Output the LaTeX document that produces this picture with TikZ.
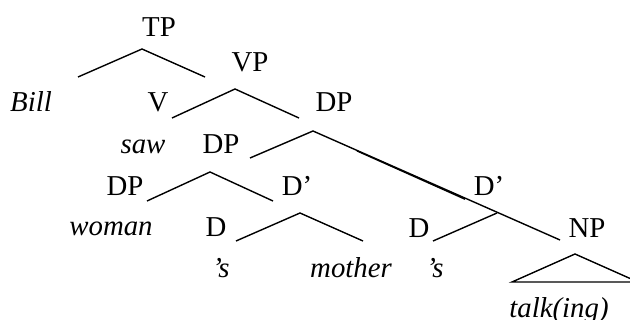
\documentclass[tikz,border=0pt]{standalone}
\usepackage{fontspec}
\setmainfont{Liberation Serif}
\begin{document}
\begin{tikzpicture}[x=0.5pt,y=-0.5pt,
  lab/.style={anchor=base,inner sep=0pt,font=\fontsize{14.4}{17}\selectfont},
  word/.style={lab,font=\fontsize{14.4}{17}\selectfont\itshape},
  branch/.style={line width=0.7pt}]
\useasboundingbox (0,0) rectangle (630,320);
% labels
\node[lab]  (tp)    at (159,37)  {TP};
\node[lab]  (vp)    at (250,72)  {VP};
\node[word] (bill)  at (31,112)  {Bill};
\node[lab]  (v)     at (158,112) {V};
\node[lab]  (dpa)   at (334,112) {DP};
\node[word] (saw)   at (143,154) {saw};
\node[lab]  (dpb)   at (221,154) {DP};
\node[lab]  (dpc)   at (125,195) {DP};
\node[lab]  (dba)   at (297,195) {D’};
\node[word] (woman) at (111,235) {woman};
\node[lab]  (da)    at (216,236) {D};
\node[word] (sa)    at (221,277) {’s};
\node[word] (mother) at (351,277) {mother};
\node[lab]  (dbb)   at (489,195) {D’};
\node[lab]  (db)    at (419,237) {D};
\node[word] (sb)    at (435,277) {’s};
\node[lab]  (np)    at (587,237) {NP};
\node[word] (talk)  at (559,317) {talk(ing)};
% branch points
\coordinate (tpA) at (142,49);  \coordinate (tpL) at (78,77);   \coordinate (tpR) at (205,77);
\coordinate (vpA) at (235,89);  \coordinate (vpL) at (172,118); \coordinate (vpR) at (299,118);
\coordinate (dpA) at (313,131); \coordinate (dpL) at (250,158); \coordinate (dpR) at (560,240);
\coordinate (dpS) at (357,150.9); \coordinate (dpR2) at (465,199.2);
\coordinate (dcA) at (210,172); \coordinate (dcL) at (147,201); \coordinate (dcR) at (273,201);
\coordinate (daA) at (300,213); \coordinate (daL) at (236,241); \coordinate (daR) at (363,241);
\coordinate (dbA) at (497,213); \coordinate (dbL) at (433,241);
\coordinate (trA) at (575,254); \coordinate (trL) at (512,282); \coordinate (trR) at (638,282);
% branches
\draw[branch] (tpL) -- (tpA) -- (tpR);
\draw[branch] (vpL) -- (vpA) -- (vpR);
\draw[branch] (dpL) -- (dpA) -- (dpR);
\draw[branch] (dpS) -- (dpR2);
\draw[branch] (dcL) -- (dcA) -- (dcR);
\draw[branch] (daL) -- (daA) -- (daR);
\draw[branch] (dbL) -- (dbA);
\draw[branch,line join=miter] (trL) -- (trA) -- (trR) -- cycle;
\end{tikzpicture}
\end{document}
